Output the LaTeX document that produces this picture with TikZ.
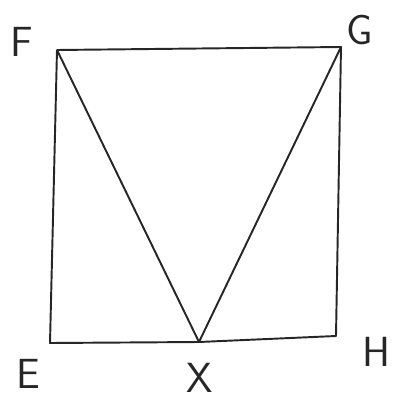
\documentclass[tikz,border=0pt]{standalone}
\usepackage{tikz}
\usetikzlibrary{positioning}

\begin{document}
\begin{tikzpicture}[
  x=0.02cm, y=-0.02cm,
  corner/.style={inner sep=0pt},
  lab/.style={font=\fontsize{24}{24}\selectfont\sffamily, text=black!85},
  edge/.style={line width=1.1pt, black!85, line join=round},
]
\useasboundingbox (0,0) rectangle (393,406);

% --- Corners ---
\coordinate (F) at (57,50);
\coordinate (G) at (341,47);
\coordinate (H) at (336,336);
\coordinate (E) at (50,343);
\coordinate (X) at (199,342);

% --- Square and triangle ---
\draw[edge] (F) -- (G) -- (H) -- (X) -- (E) -- cycle;
\draw[edge] (F) -- (X) -- (G);

% --- Labels ---
\node[lab] (labF) at (22,42)  {F};
\node[lab] (labG) at (360,30) {G};
\node[lab] (labH) at (376,352){H};
\node[lab] (labE) at (28,374) {E};
\node[lab] (labX) at (200,378){X};
\end{tikzpicture}
\end{document}
